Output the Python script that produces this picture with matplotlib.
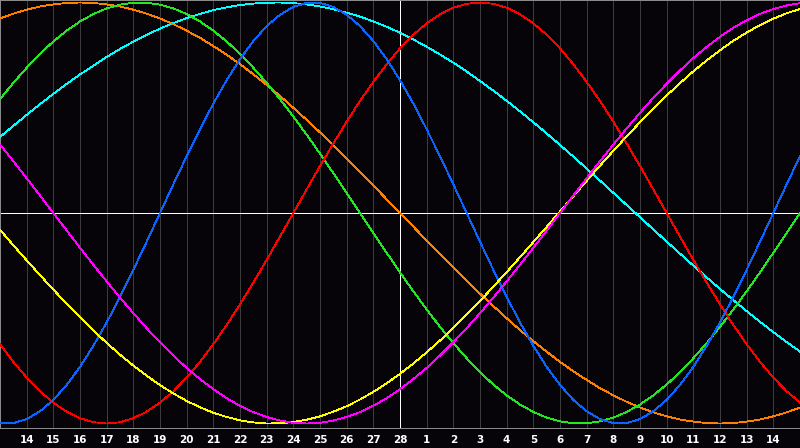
import matplotlib
matplotlib.use("Agg")
import matplotlib.pyplot as plt

# Day labels along the bottom (previous month 14..28, next month 1..14)
day_labels = ["14", "15", "16", "17", "18", "19", "20", "21", "22", "23", "24", "25", "26", "27", "28",
              "1", "2", "3", "4", "5", "6", "7", "8", "9", "10", "11", "12", "13", "14"]
label_pos = list(range(1, 30))

# Sample positions in days: 0 = left edge (day 13), 30 = right edge; half-day steps
days = [i * 0.5 for i in range(61)]

red = [-0.623, -0.707, -0.782, -0.847, -0.901, -0.944, -0.975, -0.994, -1.000, -0.994,
       -0.975, -0.944, -0.901, -0.847, -0.782, -0.707, -0.623, -0.532, -0.434, -0.330,
       -0.223, -0.112, 0.000, 0.112, 0.223, 0.330, 0.434, 0.532, 0.623, 0.707,
       0.782, 0.847, 0.901, 0.944, 0.975, 0.994, 1.000, 0.994, 0.975, 0.944,
       0.901, 0.847, 0.782, 0.707, 0.623, 0.532, 0.434, 0.330, 0.223, 0.112,
       0.000, -0.112, -0.223, -0.330, -0.434, -0.532, -0.623, -0.707, -0.782, -0.847,
       -0.901]
blue = [-0.998, -0.998, -0.979, -0.942, -0.888, -0.817, -0.731, -0.631, -0.520, -0.398,
        -0.270, -0.136, 0.000, 0.136, 0.270, 0.398, 0.520, 0.631, 0.731, 0.817,
        0.888, 0.942, 0.979, 0.998, 0.998, 0.979, 0.942, 0.888, 0.817, 0.731,
        0.631, 0.520, 0.398, 0.270, 0.136, 0.000, -0.136, -0.270, -0.398, -0.520,
        -0.631, -0.731, -0.817, -0.888, -0.942, -0.979, -0.998, -0.998, -0.979, -0.942,
        -0.888, -0.817, -0.731, -0.631, -0.520, -0.398, -0.270, -0.136, 0.000, 0.136,
        0.270]
green = [0.541, 0.618, 0.690, 0.756, 0.815, 0.866, 0.910, 0.945, 0.972, 0.990,
         0.999, 0.999, 0.990, 0.972, 0.945, 0.910, 0.866, 0.815, 0.756, 0.690,
         0.618, 0.541, 0.458, 0.372, 0.282, 0.189, 0.095, 0.000, -0.095, -0.189,
         -0.282, -0.372, -0.458, -0.541, -0.618, -0.690, -0.756, -0.815, -0.866, -0.910,
         -0.945, -0.972, -0.990, -0.999, -0.999, -0.990, -0.972, -0.945, -0.910, -0.866,
         -0.815, -0.756, -0.690, -0.618, -0.541, -0.458, -0.372, -0.282, -0.189, -0.095,
         0.000]
orange = [0.924, 0.947, 0.966, 0.981, 0.991, 0.998, 1.000, 0.998, 0.991, 0.981,
          0.966, 0.947, 0.924, 0.897, 0.866, 0.832, 0.793, 0.752, 0.707, 0.659,
          0.609, 0.556, 0.500, 0.442, 0.383, 0.321, 0.259, 0.195, 0.131, 0.065,
          0.000, -0.065, -0.131, -0.195, -0.259, -0.321, -0.383, -0.442, -0.500, -0.556,
          -0.609, -0.659, -0.707, -0.752, -0.793, -0.832, -0.866, -0.897, -0.924, -0.947,
          -0.966, -0.981, -0.991, -0.998, -1.000, -0.998, -0.991, -0.981, -0.966, -0.947,
          -0.924]
cyan = [0.361, 0.414, 0.466, 0.517, 0.566, 0.613, 0.658, 0.700, 0.741, 0.779,
        0.814, 0.846, 0.876, 0.902, 0.926, 0.946, 0.964, 0.977, 0.988, 0.995,
        0.999, 1.000, 0.997, 0.991, 0.981, 0.968, 0.952, 0.933, 0.910, 0.885,
        0.856, 0.824, 0.790, 0.753, 0.714, 0.672, 0.627, 0.581, 0.533, 0.483,
        0.431, 0.378, 0.323, 0.268, 0.211, 0.154, 0.096, 0.038, -0.020, -0.078,
        -0.136, -0.193, -0.250, -0.306, -0.361, -0.414, -0.466, -0.517, -0.566, -0.613,
        -0.658]
yellow = [-0.080, -0.153, -0.225, -0.295, -0.364, -0.431, -0.496, -0.558, -0.617, -0.673,
          -0.725, -0.773, -0.818, -0.857, -0.893, -0.923, -0.949, -0.969, -0.985, -0.995,
          -1.000, -0.999, -0.993, -0.982, -0.966, -0.944, -0.918, -0.886, -0.850, -0.809,
          -0.764, -0.715, -0.662, -0.606, -0.546, -0.483, -0.418, -0.350, -0.281, -0.210,
          -0.138, -0.066, 0.007, 0.080, 0.153, 0.225, 0.295, 0.364, 0.431, 0.496,
          0.558, 0.617, 0.673, 0.725, 0.773, 0.818, 0.857, 0.893, 0.923, 0.949,
          0.969]
magenta = [0.325, 0.246, 0.165, 0.083, 0.000, -0.083, -0.165, -0.246, -0.325, -0.402,
           -0.476, -0.547, -0.614, -0.677, -0.736, -0.789, -0.837, -0.880, -0.916, -0.946,
           -0.969, -0.986, -0.997, -1.000, -0.997, -0.986, -0.969, -0.946, -0.916, -0.880,
           -0.837, -0.789, -0.736, -0.677, -0.614, -0.547, -0.476, -0.402, -0.325, -0.246,
           -0.165, -0.083, 0.000, 0.083, 0.165, 0.246, 0.325, 0.402, 0.476, 0.547,
           0.614, 0.677, 0.736, 0.789, 0.837, 0.880, 0.916, 0.946, 0.969, 0.986,
           0.997]

series = [
    (cyan, "#00ffff"),
    (orange, "#ff8000"),
    (green, "#22e822"),
    (red, "#ff0000"),
    (blue, "#0a64ff"),
    (yellow, "#ffff00"),
    (magenta, "#ff00ff"),
]

BG = "#060409"
W, H = 800, 448
PX = 72 / 100  # one pixel in points

fig = plt.figure(figsize=(W / 100, H / 100), dpi=100, facecolor=BG)
ax = fig.add_axes([0, 20 / H, 1, 428 / H], facecolor=BG)

ax.set_xlim(0, 30)
ax.set_ylim(-1.0214, 1.0119)

# vertical day grid lines
for k in label_pos:
    if k != 15:
        ax.axvline(k, color="#3c3c3c", lw=PX, antialiased=False, zorder=1)

# center cross
ax.axhline(0, color="#ffffff", lw=PX, antialiased=False, zorder=2)
ax.axvline(15, color="#ffffff", lw=PX, antialiased=False, zorder=2)

for vals, col in series:
    ax.plot(days, vals, color=col, lw=0.6, antialiased=False, zorder=3)

ax.spines["right"].set_visible(False)
for side in ["left", "top", "bottom"]:
    ax.spines[side].set_color("#8a8a8a")
    ax.spines[side].set_linewidth(PX)
    ax.spines[side].set_antialiased(False)

ax.set_yticks([])
ax.set_xticks(label_pos)
ax.set_xticklabels(day_labels, color="white", fontsize=7.5, fontweight="bold",
                   family="DejaVu Sans")
ax.tick_params(axis="x", length=0, pad=5.2)

fig.savefig("out.png", dpi=100, facecolor=BG)
